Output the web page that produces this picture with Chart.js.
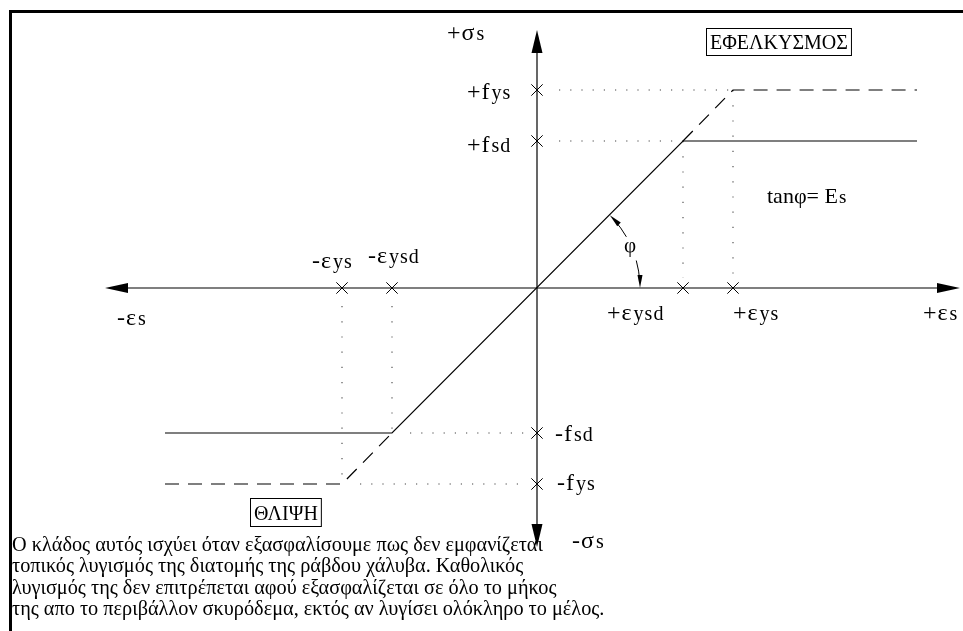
<!DOCTYPE html>
<html>
<head>
<meta charset="utf-8">
<title>σ-ε χάλυβα</title>
<script src="https://cdn.jsdelivr.net/npm/chart.js@4.4.1/dist/chart.umd.min.js"></script>
<style>
  html, body { margin: 0; padding: 0; background: #fff; }
  #wrap { position: relative; width: 963px; height: 631px; overflow: hidden; }
  #frame { position: absolute; left: 9px; top: 10px; width: 980px; height: 640px;
           border-left: 3px solid #000; border-top: 3px solid #000; }
  canvas { position: absolute; left: 0; top: 0; }
  #note { position: absolute; left: 12px; top: 534px; font-family: "Liberation Serif", serif;
          font-size: 20.3px; line-height: 21.4px; color: #000; white-space: nowrap; }
</style>
</head>
<body>
<div id="wrap">
  <div id="frame"></div>
  <canvas id="chart" width="963" height="631"></canvas>
  <div id="note">Ο κλάδος αυτός ισχύει όταν εξασφαλίσουμε πως δεν εμφανίζεται<br>τοπικός λυγισμός της διατομής της ράβδου χάλυβα. Καθολικός<br>λυγισμός της δεν επιτρέπεται αφού εξασφαλίζεται σε όλο το μήκος<br>της απο το περιβάλλον σκυρόδεμα, εκτός αν λυγίσει ολόκληρο το μέλος.</div>
</div>
<script>
// characteristic points of the bilinear steel law (drawing units)
const designStrain = [-1.45, 1.46];   // -εysd, +εysd
const yieldStrain  = [-1.95, 1.96];   // -εys,  +εys
const designStress = [-1.45, 1.47];   // -fsd,  +fsd
const yieldStress  = [-1.96, 1.98];   // -fys,  +fys
const plateauEnd   = [-3.72, 3.80];   // where the horizontal branches stop

// axis extent and visible window
const strainAxis = [-4.32, 4.23];
const stressAxis = [-2.59, 2.58];
const viewX = [-5.37, 4.26];
const viewY = [-3.43, 2.88];

// tick labels: [main part, subscript part]
const strainTickValues = [yieldStrain[0], designStrain[0], designStrain[1], yieldStrain[1]];
const strainTickLabels = [['-ε', 'ys'], ['-ε', 'ysd'], ['+ε', 'ysd'], ['+ε', 'ys']];
const stressTickValues = [yieldStress[1], designStress[1], designStress[0], yieldStress[0]];
const stressTickLabels = [['+f', 'ys'], ['+f', 'sd'], ['-f', 'sd'], ['-f', 'ys']];

const FONT = '"Liberation Serif", serif';

function pt(x, y) { return {x: x, y: y}; }

// design branch (solid) and yield branches (dashed)
const designCurve = [
  pt(plateauEnd[0], designStress[0]), pt(designStrain[0], designStress[0]),
  pt(designStrain[1], designStress[1]), pt(plateauEnd[1], designStress[1])
];
const yieldCurvePos = [
  pt(designStrain[1], designStress[1]), pt(yieldStrain[1], yieldStress[1]), pt(plateauEnd[1], yieldStress[1])
];
const yieldCurveNeg = [
  pt(plateauEnd[0], yieldStress[0]), pt(yieldStrain[0], yieldStress[0]), pt(designStrain[0], designStress[0])
];

// dotted projection lines onto the axes
const hGuides = [
  [pt(0.22, yieldStress[1]), pt(yieldStrain[1], yieldStress[1])],
  [pt(0.22, designStress[1]), pt(designStrain[1], designStress[1])],
  [pt(designStrain[0] + 0.18, designStress[0]), pt(-0.12, designStress[0])],
  [pt(yieldStrain[0] + 0.18, yieldStress[0]), pt(-0.12, yieldStress[0])]
];
const vGuides = [
  [pt(yieldStrain[1], yieldStress[1]), pt(yieldStrain[1], 0.1)],
  [pt(designStrain[1], designStress[1]), pt(designStrain[1], 0.1)],
  [pt(yieldStrain[0], -0.18), pt(yieldStrain[0], yieldStress[0])],
  [pt(designStrain[0], -0.18), pt(designStrain[0], designStress[0])]
];

const tickMarks = strainTickValues.map(v => pt(v, 0)).concat(stressTickValues.map(v => pt(0, v)));

function lineSet(data, dash, width, color) {
  return {
    type: 'line', data: data, borderColor: color || '#000', borderWidth: width || 1.2,
    borderDash: dash || [], pointRadius: 0, tension: 0, fill: false
  };
}

function arrowHead(ctx, x, y, angle, len, half) {
  ctx.save();
  ctx.translate(x, y);
  ctx.rotate(angle);
  ctx.beginPath();
  ctx.moveTo(0, 0);
  ctx.lineTo(-len, -half);
  ctx.lineTo(-len, half);
  ctx.closePath();
  ctx.fill();
  ctx.restore();
}

// main symbol followed by a slightly smaller index on the same baseline
function subLabel(ctx, x, y, main, sub) {
  ctx.letterSpacing = '1px';
  ctx.font = '24px ' + FONT;
  ctx.fillText(main, x, y);
  const w = ctx.measureText(main).width;
  if (sub) {
    ctx.font = '20px ' + FONT;
    ctx.fillText(sub, x + w + 1, y);
  }
  ctx.letterSpacing = '0px';
}

function boxedText(ctx, text, x, y, h) {
  ctx.font = '20px ' + FONT;
  const w = ctx.measureText(text).width + 7;
  ctx.lineWidth = 1;
  ctx.strokeRect(x + 0.5, y + 0.5, w, h);
  ctx.fillText(text, x + 4, y + h - 6);
}

const diagramPlugin = {
  id: 'diagram',
  beforeDatasetsDraw(chart) {
    const ctx = chart.ctx, sx = chart.scales.x, sy = chart.scales.y;
    const ox = sx.getPixelForValue(0), oy = sy.getPixelForValue(0);
    ctx.save();
    ctx.strokeStyle = '#000';
    ctx.fillStyle = '#000';
    ctx.lineWidth = 1.2;
    // strain axis
    const xl = sx.getPixelForValue(strainAxis[0]), xr = sx.getPixelForValue(strainAxis[1]);
    ctx.beginPath();
    ctx.moveTo(xl + 10, oy); ctx.lineTo(xr - 10, oy);
    ctx.stroke();
    arrowHead(ctx, xl, oy, Math.PI, 23, 5);
    arrowHead(ctx, xr, oy, 0, 23, 5);
    // stress axis
    const yt = sy.getPixelForValue(stressAxis[1]), yb = sy.getPixelForValue(stressAxis[0]);
    ctx.beginPath();
    ctx.moveTo(ox, yt + 10); ctx.lineTo(ox, yb - 10);
    ctx.stroke();
    arrowHead(ctx, ox, yt, -Math.PI / 2, 23, 5.5);
    arrowHead(ctx, ox, yb, Math.PI / 2, 23, 5.5);
    ctx.restore();
  },
  afterDraw(chart) {
    const ctx = chart.ctx, sx = chart.scales.x, sy = chart.scales.y;
    const ox = sx.getPixelForValue(0), oy = sy.getPixelForValue(0);
    ctx.save();
    ctx.fillStyle = '#000';
    ctx.strokeStyle = '#000';
    ctx.textBaseline = 'alphabetic';

    // angle φ between elastic branch and strain axis
    const r = sx.getPixelForValue(1.03) - ox;
    ctx.lineWidth = 1;
    ctx.beginPath();
    ctx.arc(ox, oy, r, -0.27, -0.06);
    ctx.stroke();
    ctx.beginPath();
    ctx.arc(ox, oy, r, -Math.PI / 4 + 0.06, -0.52, false);
    ctx.stroke();
    arrowHead(ctx, ox + r, oy, Math.PI / 2, 13, 2.5);
    const a = -Math.PI / 4;
    arrowHead(ctx, ox + r * Math.cos(a), oy + r * Math.sin(a), -3 * Math.PI / 4, 13, 2.5);
    ctx.font = '21px ' + FONT;
    ctx.textAlign = 'center';
    ctx.fillText('φ', ox + 93, oy - 36);
    ctx.textAlign = 'left';

    // tick labels on the strain axis
    const strainOffsets = [[-30, -20], [-24, -25], [-76, 32], [0, 32]];
    strainTickValues.forEach((v, i) => {
      const px = sx.getPixelForValue(v);
      subLabel(ctx, px + strainOffsets[i][0], oy + strainOffsets[i][1], strainTickLabels[i][0], strainTickLabels[i][1]);
    });
    // tick labels on the stress axis
    const stressOffsets = [[-70, 9], [-70, 11], [18, 8], [20, 6]];
    stressTickValues.forEach((v, i) => {
      const py = sy.getPixelForValue(v);
      subLabel(ctx, ox + stressOffsets[i][0], py + stressOffsets[i][1], stressTickLabels[i][0], stressTickLabels[i][1]);
    });

    // axis names
    const xl = sx.getPixelForValue(strainAxis[0]), xr = sx.getPixelForValue(strainAxis[1]);
    const yt = sy.getPixelForValue(stressAxis[1]), yb = sy.getPixelForValue(stressAxis[0]);
    subLabel(ctx, ox - 90, yt + 10, '+σ', 's');
    subLabel(ctx, ox + 35, yb + 1, '-σ', 's');
    subLabel(ctx, xl + 12, oy + 37, '-ε', 's');
    subLabel(ctx, xr - 37, oy + 32, '+ε', 's');

    // modulus note
    ctx.font = '22px ' + FONT;
    ctx.fillText('tanφ= E', ox + 230, oy - 85);
    const tw = ctx.measureText('tanφ= E').width;
    ctx.font = '19px ' + FONT;
    ctx.fillText('s', ox + 230 + tw + 1, oy - 85);

    // tension / compression tags
    boxedText(ctx, 'ΕΦΕΛΚΥΣΜΟΣ', ox + 169, yt - 2, 27);
    boxedText(ctx, 'ΘΛΙΨΗ', sx.getPixelForValue(yieldStrain[0]) - 92, oy + 210, 28);
    ctx.restore();
  }
};

new Chart(document.getElementById('chart'), {
  data: {
    datasets: [
      lineSet(designCurve, [], 1.2),
      lineSet(yieldCurvePos, [14, 9], 1.2),
      lineSet(yieldCurveNeg, [14, 9], 1.2),
      ...hGuides.map(g => lineSet(g, [1.2, 10], 1.1, '#444')),
      ...vGuides.map(g => lineSet(g, [1.2, 14], 1.1, '#444')),
      {
        type: 'scatter', data: tickMarks, pointStyle: 'crossRot', pointRadius: 8,
        borderColor: '#000', borderWidth: 1, backgroundColor: '#000'
      }
    ]
  },
  options: {
    responsive: false,
    animation: false,
    devicePixelRatio: 1,
    layout: { padding: 0, autoPadding: false },
    plugins: { legend: { display: false }, tooltip: { enabled: false } },
    scales: {
      x: { type: 'linear', display: false, min: viewX[0], max: viewX[1] },
      y: { type: 'linear', display: false, min: viewY[0], max: viewY[1] }
    }
  },
  plugins: [diagramPlugin]
});
</script>
</body>
</html>
